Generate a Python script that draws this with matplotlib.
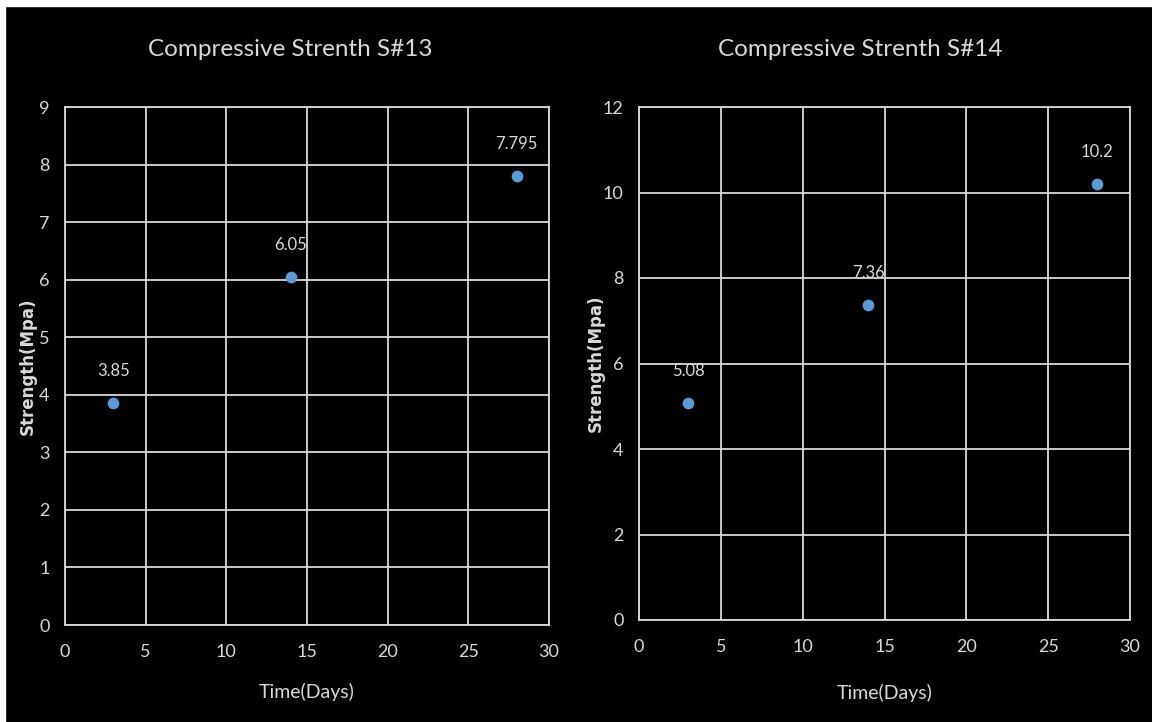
import matplotlib
matplotlib.use('Agg')
from matplotlib import pyplot as plt
from matplotlib.patches import Rectangle


plt.rcParams['font.family'] = ['Lato', 'DejaVu Sans']

# compressive strength test results
days = [3, 14, 28]
strength_s13 = [3.85, 6.05, 7.795]
strength_s14 = [5.08, 7.36, 10.2]
labels_s13 = ['3.85', '6.05', '7.795']
labels_s14 = ['5.08', '7.36', '10.2']

W, H = 1152, 722
FG = '#d9d9d9'
DOT = '#5b9bd5'


def px_axes(fig, x0, x1, y0, y1):
    # axes box from pixel coordinates (top-left origin)
    return fig.add_axes([x0 / W, (H - y1) / H, (x1 - x0) / W, (y1 - y0) / H])


def draw_panel(ax, title_x, title, x, y, labels, ymax, ystep):
    ax.set_facecolor('black')
    ax.scatter(x, y, s=55, color=DOT, zorder=3)
    for xi, yi, lab in zip(x, y, labels):
        ax.annotate(lab, (xi, yi), xytext=(0, 23), textcoords='offset points',
                    ha='center', va='center', color=FG, fontsize=12)

    ax.set_xlim(0, 30)
    ax.set_ylim(0, ymax)
    ax.set_xticks(range(0, 31, 5))
    ax.set_yticks(range(0, ymax + 1, ystep))
    ax.grid(True, color=FG, linewidth=1.3)
    ax.set_axisbelow(True)
    for sp in ax.spines.values():
        sp.set_color(FG)
        sp.set_linewidth(1.3)
    ax.tick_params(length=0, colors=FG, labelsize=13)
    ax.tick_params(axis='x', pad=14)
    ax.tick_params(axis='y', pad=11)

    ax.set_xlabel('Time(Days)', color=FG, fontsize=14)
    ax.set_ylabel('Strength(Mpa)', color=FG, fontsize=12, fontweight='bold',
                  family=['DejaVu Sans'])
    fig.text(title_x / W, 1 - 50 / H, title, ha='center', va='center',
             color=FG, fontsize=17.5)


fig = plt.figure(figsize=(W / 100, H / 100), dpi=100, facecolor='black')

ax1 = px_axes(fig, 65, 549, 107, 625)
draw_panel(ax1, 290, 'Compressive Strenth S#13', days, strength_s13, labels_s13, 9, 1)
ax1.xaxis.set_label_coords(0.5, -58 / 518)
ax1.yaxis.set_label_coords(-28 / 484, 0.5)

ax2 = px_axes(fig, 639, 1130, 107, 620)
draw_panel(ax2, 860, 'Compressive Strenth S#14', days, strength_s14, labels_s14, 12, 2)
ax2.xaxis.set_label_coords(0.5, -64 / 513)
ax2.yaxis.set_label_coords(-34 / 491, 0.5)

# white margin along the top and left edges
fig.patches.append(Rectangle((0, 1 - 6 / H), 1, 6 / H, transform=fig.transFigure,
                             color='white', zorder=10))
fig.patches.append(Rectangle((0, 0), 5 / W, 1, transform=fig.transFigure,
                             color='white', zorder=10))

fig.savefig('out.png', dpi=100, facecolor='black')
